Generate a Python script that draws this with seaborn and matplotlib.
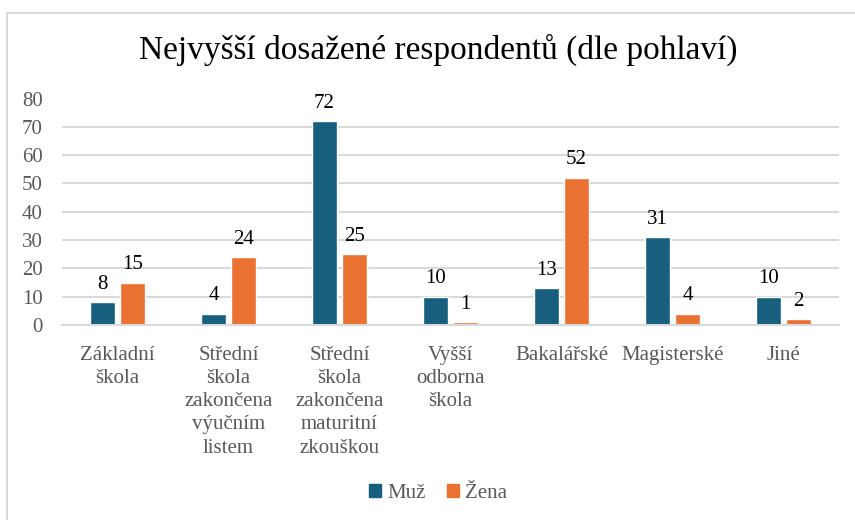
import matplotlib.pyplot as plt
import seaborn as sns
import pandas as pd
from matplotlib.patches import Rectangle

kategorie = ['Základní\nškola', 'Střední\nškola\nzakončena\nvýučním\nlistem',
             'Střední\nškola\nzakončena\nmaturitní\nzkouškou', 'Vyšší\nodborna\nškola',
             'Bakalářské', 'Magisterské', 'Jiné']
muz = [8, 4, 72, 10, 13, 31, 10]
zena = [15, 24, 25, 1, 52, 4, 2]
pohlavi = ['Muž', 'Žena']
barvy = ['#175e7f', '#e97132']

df = pd.DataFrame({
    'Vzdělání': kategorie * 2,
    'Pohlaví': [pohlavi[0]] * len(muz) + [pohlavi[1]] * len(zena),
    'Počet': muz + zena,
})

sns.set_theme(style='white')
plt.rcParams['font.family'] = ['Liberation Serif', 'DejaVu Serif']

fig = plt.figure(figsize=(8.55, 5.2), dpi=100)
ax = fig.add_axes([62 / 855, 1 - 325 / 520, (839 - 62) / 855, (325 - 98.5) / 520])

sns.barplot(data=df, x='Vzdělání', y='Počet', hue='Pohlaví', palette=barvy,
            width=0.545, gap=0.17, ax=ax, legend=False, saturation=1)

for cont in ax.containers:
    ax.bar_label(cont, padding=6, fontsize=15, color='black')

ax.set_ylim(0, 80)
ax.set_xlim(-0.5, len(kategorie) - 0.5)
ax.set_yticks(range(0, 81, 10))
ax.yaxis.grid(True, color='#d9d9d9', linewidth=1.5)
ax.set_axisbelow(True)
for s in ['top', 'right', 'left']:
    ax.spines[s].set_visible(False)
ax.spines['bottom'].set_color('#d9d9d9')
ax.spines['bottom'].set_linewidth(1.5)
ax.tick_params(axis='both', length=0, labelsize=15, labelcolor='#595959')
ax.tick_params(axis='x', pad=15)
ax.tick_params(axis='y', pad=14)
for lab in ax.get_xticklabels():
    lab.set_linespacing(1.3)
ax.set_xlabel('')
ax.set_ylabel('')

fig.text(438 / 855, 1 - 50 / 520, 'Nejvyšší dosažené respondentů (dle pohlaví)',
         ha='center', va='center', fontsize=24, color='black')

handles = [Rectangle((0, 0), 1, 1, color=c) for c in barvy]
fig.legend(handles, pohlavi, loc='center', bbox_to_anchor=(438 / 855, 1 - 493 / 520),
           ncol=2, frameon=False, fontsize=15, labelcolor='#595959',
           handlelength=0.6, handleheight=0.6, handletextpad=0.3, columnspacing=1.0)

fig.add_artist(Rectangle((6.5 / 855, -0.01), 1, 1 - 12.5 / 520 + 0.01, transform=fig.transFigure,
                         fill=False, edgecolor='#d9d9d9', linewidth=1.5))

fig.savefig('out.png', dpi=100)
